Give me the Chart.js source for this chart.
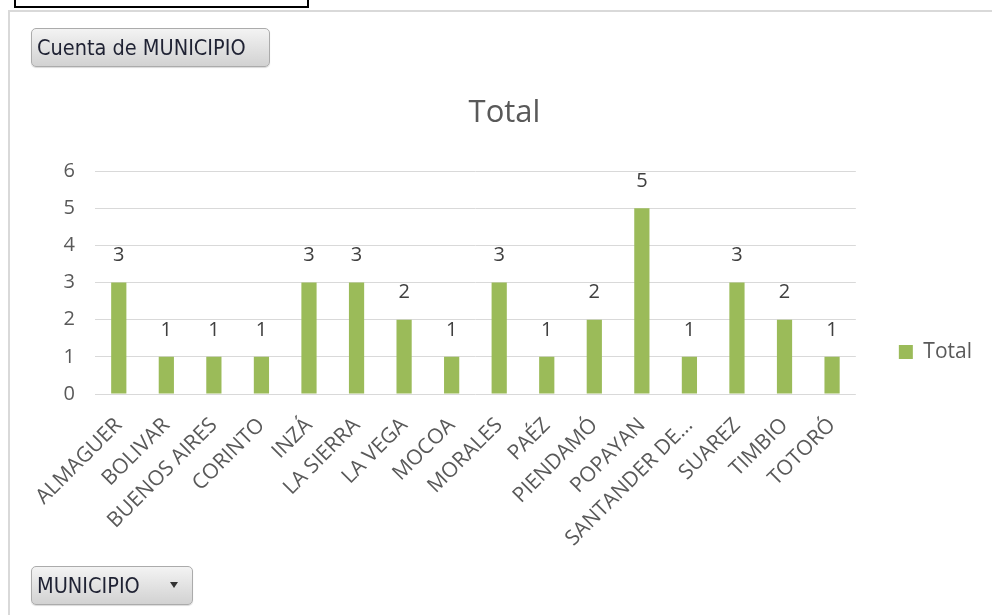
<!DOCTYPE html>
<html>
<head>
<meta charset="utf-8">
<script src="https://cdn.jsdelivr.net/npm/chart.js@4.4.1/dist/chart.umd.min.js"></script>
<style>
  html, body { margin: 0; padding: 0; background: #fff; width: 992px; height: 615px; overflow: hidden; }
  #wrap { position: relative; width: 992px; height: 615px; }
  #topbox { position: absolute; left: 14px; top: -4px; width: 291px; height: 8px; border: 2px solid #000; background: #fff; }
  #frame { position: absolute; left: 8px; top: 10px; width: 990px; height: 620px; border-top: 2px solid #d9d9d9; border-left: 2px solid #d9d9d9; box-sizing: border-box; }
  canvas { position: absolute; left: 0; top: 0; }
  .btn { position: absolute; box-sizing: border-box; border: 1px solid #ababab; border-radius: 5px;
         background: linear-gradient(#f3f3f3, #d2d2d2); font-family: "DejaVu Sans Condensed", "DejaVu Sans", sans-serif;
         font-size: 21.5px; color: #1f2233; line-height: 37px; padding-left: 5px; box-shadow: 0 1px 1px rgba(0,0,0,0.15); }
  #btn1 { left: 31px; top: 28px; width: 239px; height: 39px; }
  #btn2 { left: 31px; top: 566px; width: 162px; height: 39px; }
  #arrow { position: absolute; left: 138px; top: 15px; width: 0; height: 0; border-left: 4.5px solid transparent; border-right: 4.5px solid transparent; border-top: 6px solid #333; }
</style>
</head>
<body>
<div id="wrap">
  <div id="topbox"></div>
  <div id="frame"></div>
  <canvas id="c" width="992" height="615"></canvas>
  <div class="btn" id="btn1">Cuenta de MUNICIPIO</div>
  <div class="btn" id="btn2">MUNICIPIO<span id="arrow"></span></div>
</div>
<script>
const categories = ["ALMAGUER", "BOLIVAR", "BUENOS AIRES", "CORINTO", "INZÁ", "LA SIERRA", "LA VEGA", "MOCOA", "MORALES", "PAÉZ", "PIENDAMÓ", "POPAYAN", "SANTANDER DE...", "SUAREZ", "TIMBIO", "TOTORÓ"];
const totals = [3, 1, 1, 1, 3, 3, 2, 1, 3, 1, 2, 5, 1, 3, 2, 1];
const yTicks = [0, 1, 2, 3, 4, 5, 6];
const seriesName = "Total";
const chartTitle = "Total";

const FONT = "'Open Sans', 'Noto Sans', sans-serif";

const dataLabels = {
  id: 'dataLabels',
  afterDatasetsDraw(chart) {
    const ctx = chart.ctx;
    const meta = chart.getDatasetMeta(0);
    ctx.save();
    ctx.font = "20px " + FONT;
    ctx.fillStyle = "#404040";
    ctx.textAlign = "center";
    ctx.textBaseline = "middle";
    meta.data.forEach((bar, i) => {
      ctx.fillText(String(chart.data.datasets[0].data[i]), bar.x, bar.y - 27);
    });
    ctx.restore();
  }
};

new Chart(document.getElementById('c'), {
  type: 'bar',
  data: {
    labels: categories,
    datasets: [{
      label: seriesName,
      data: totals,
      backgroundColor: '#9bbb59',
      borderWidth: 0,
      barPercentage: 0.32,
      categoryPercentage: 1.0
    }]
  },
  options: {
    responsive: false,
    animation: false,
    devicePixelRatio: 1,
    layout: { padding: { left: 27, right: 10, top: 95, bottom: 6 } },
    plugins: {
      title: {
        display: true,
        text: chartTitle,
        color: '#595959',
        font: { family: FONT, size: 31, weight: 'normal' },
        padding: { top: 0, bottom: 39 }
      },
      legend: {
        position: 'right',
        labels: {
          boxWidth: 14,
          boxHeight: 14,
          padding: 43,
          color: '#595959',
          font: { family: FONT, size: 21 }
        }
      },
      tooltip: { enabled: false }
    },
    scales: {
      x: {
        grid: { display: false },
        border: { display: false },
        ticks: {
          autoSkip: false,
          minRotation: 45,
          maxRotation: 45,
          color: '#595959',
          font: { family: FONT, size: 21 },
          padding: 11
        },
        afterFit(scale) { scale.height = 215; }
      },
      y: {
        min: 0,
        max: 6,
        afterBuildTicks(scale) { scale.ticks = yTicks.map(v => ({ value: v })); },
        grid: { color: '#d9d9d9', lineWidth: 1, drawTicks: false },
        border: { display: false },
        ticks: {
          color: '#595959',
          font: { family: FONT, size: 20 },
          padding: 20
        },
        afterFit(scale) { scale.width = 68; }
      }
    }
  },
  plugins: [dataLabels]
});
</script>
</body>
</html>
